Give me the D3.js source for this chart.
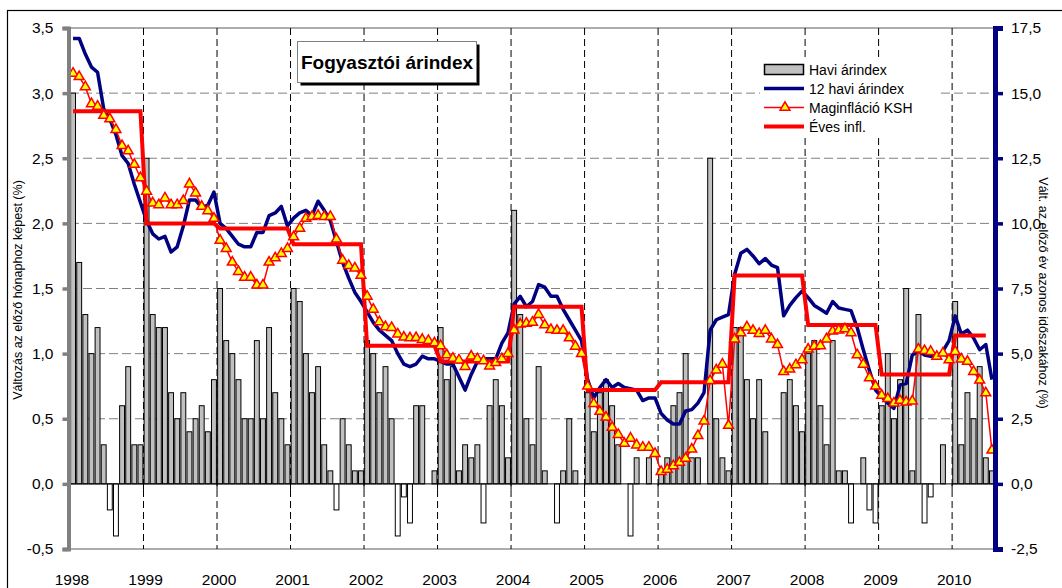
<!DOCTYPE html>
<html>
<head>
<meta charset="utf-8">
<script src="https://cdn.jsdelivr.net/npm/d3@7"></script>
<style>
body { margin: 0; background: #fff; }
svg { display: block; font-family: "Liberation Sans", Arial, sans-serif; }
</style>
</head>
<body>
<svg width="1062" height="588"></svg>
<script>
// years on the category axis
var years = ['1998', '1999', '2000', '2001', '2002', '2003', '2004', '2005', '2006', '2007', '2008', '2009', '2010'];

// monthly change, left axis (%), 1998 Jan .. 2010 Jul
var haviArindex = [
    3.0, 1.7, 1.3, 1.0, 1.2, 0.3, -0.2, -0.4, 0.6, 0.9, 0.3, 0.3,
    2.5, 1.3, 1.2, 1.2, 0.7, 0.5, 0.7, 0.4, 0.5, 0.6, 0.4, 0.8,
    1.5, 1.1, 1.0, 0.8, 0.5, 0.5, 1.1, 0.5, 1.2, 0.7, 0.5, 0.3,
    1.5, 1.4, 1.0, 0.7, 0.9, 0.3, 0.1, -0.2, 0.5, 0.3, 0.1, 0.1,
    1.1, 1.0, 0.7, 0.9, 0.5, -0.4, -0.1, -0.3, 0.6, 0.6, 0.0, 0.1,
    1.2, 0.8, 0.9, 0.1, 0.3, 0.2, 0.3, -0.3, 0.6, 0.8, 0.6, 0.2,
    2.1, 1.3, 0.5, 0.3, 0.9, 0.1, 0.0, -0.3, 0.1, 0.5, 0.1, 0.0,
    0.7, 0.4, 0.7, 0.8, 0.6, 0.3, 0.0, -0.4, 0.2, 0.0, 0.2, 0.0,
    0.1, 0.2, 0.6, 0.7, 1.0, 0.2, 0.2, 0.0, 2.5, 0.5, 0.2, 0.1,
    1.2, 1.2, 0.8, 0.5, 0.8, 0.4, 0.0, 0.0, 0.7, 0.8, 0.6, 0.4,
    1.0, 1.1, 0.6, 0.3, 1.1, 0.1, 0.1, -0.3, 0.0, 0.2, -0.2, -0.3,
    0.6, 1.0, 0.5, 0.8, 1.5, 0.1, 1.3, -0.3, -0.1, 0.0, 0.3, 0.0,
    1.4, 0.3, 0.7, 0.5, 0.9, 0.2, 0.1
];

// 12 month index, right axis (%)
var havi12 = [
    17.1, 17.1, 16.5, 16.0, 15.8, 14.4, 14.0, 13.4, 12.6, 12.3, 11.5, 10.8,
    10.1, 9.6, 9.4, 9.5, 8.9, 9.1, 9.9, 10.9, 10.9, 10.6, 10.7, 11.2,
    10.0, 9.8, 9.5, 9.2, 9.1, 9.1, 9.65, 9.65, 10.3, 10.4, 10.65, 9.9,
    10.2, 10.4, 10.5, 10.3, 10.85, 10.5, 10.1, 9.3, 8.5, 7.9, 7.35, 7.0,
    6.6, 6.2, 5.9, 5.7, 5.5, 5.0, 4.6, 4.5, 4.6, 4.9, 4.8, 4.8,
    4.7, 4.6, 4.6, 4.1, 3.6, 4.2, 4.7, 4.8, 4.8, 4.8, 5.4, 5.8,
    6.9, 7.2, 6.8, 7.0, 7.65, 7.55, 7.2, 7.2, 6.7, 6.3, 5.9, 5.5,
    4.0, 3.3, 3.7, 4.0, 3.7, 3.85, 3.7, 3.65, 3.6, 3.2, 3.3, 3.3,
    2.7, 2.45, 2.3, 2.3, 2.8, 2.85, 3.1, 3.5, 5.9, 6.3, 6.4, 6.5,
    8.05, 8.85, 9.0, 8.75, 8.45, 8.65, 8.4, 8.3, 6.45, 6.85, 7.15, 7.4,
    7.15, 6.85, 6.7, 6.55, 7.0, 6.75, 6.7, 6.65, 6.0, 5.15, 4.35, 3.6,
    3.35, 3.1, 2.9, 3.8, 3.85, 4.95, 5.1, 4.95, 4.9, 4.85, 5.1, 5.5,
    6.45, 5.75, 5.9, 5.6, 5.15, 5.35, 4.0
];

// core inflation (KSH), right axis (%)
var magInfl = [
    15.76, 15.63, 15.24, 14.59, 14.49, 14.14, 14.01, 13.6, 12.98, 12.78, 12.26, 11.75,
    11.23, 10.78, 10.71, 10.97, 10.71, 10.71, 10.87, 11.51, 11.16, 10.65, 10.48, 10.19,
    9.35, 9.03, 8.51, 8.15, 7.93, 7.93, 7.63, 7.63, 8.51, 8.67, 8.84, 9.03,
    9.48, 9.81, 10.19, 10.26, 10.3, 10.26, 10.26, 9.39, 8.58, 8.38, 8.28, 8.0,
    7.2, 6.7, 6.22, 6.03, 6.0, 5.75, 5.63, 5.6, 5.61, 5.54, 5.5, 5.41,
    5.3, 4.95, 4.82, 4.75, 4.5, 4.9, 4.8, 4.72, 4.52, 4.65, 4.8, 5.0,
    5.9, 6.13, 6.16, 6.2, 6.5, 6.1, 5.92, 5.89, 5.89, 5.6, 5.28, 5.0,
    3.75, 3.08, 2.78, 2.56, 2.17, 1.89, 1.55, 1.75, 1.49, 1.4, 1.4, 1.16,
    0.47, 0.56, 0.69, 0.82, 0.98, 1.33, 1.85, 2.41, 3.96, 4.37, 4.59, 2.24,
    5.56, 5.8, 6.02, 5.89, 5.77, 5.89, 5.56, 5.34, 4.31, 4.4, 4.57, 4.76,
    5.17, 5.28, 5.3, 5.56, 5.86, 5.9, 5.95, 5.8, 4.95, 4.59, 4.07, 3.75,
    3.4, 3.27, 3.1, 3.2, 3.14, 3.18, 5.17, 5.11, 5.08, 4.89, 5.02, 4.76,
    5.08, 4.79, 4.7, 4.31, 3.98, 3.49, 1.29
];

// yearly average inflation, right axis (%)
var evesInfl = [14.3, 10.0, 9.8, 9.2, 5.3, 4.7, 6.8, 3.6, 3.9, 8.0, 6.1, 4.2, 5.7];
var evesMonths = 150; // the step line runs to 2010 Jun

var svg = d3.select('svg');
var plotLeft = 70, plotRight = 995, plotTop = 28, plotBottom = 549;
var n = haviArindex.length;

var x = d3.scaleBand()
    .domain(d3.range(n))
    .range([plotLeft, plotRight])
    .paddingInner(0.2)
    .paddingOuter(0.1);
function xc(i) { return x(i) + x.bandwidth() / 2; } //centre of a month slot
function xb(i) { return xc(i) - x.step() / 2; } //left edge of a month slot

var yL = d3.scaleLinear().domain([-0.5, 3.5]).range([plotBottom, plotTop]);
var yR = d3.scaleLinear().domain([-2.5, 17.5]).range([plotBottom, plotTop]);

var fmt = function(d) { return d3.format('.1f')(d).replace('.', ',').replace('\u2212', '-'); };

//outer frame
svg.append('rect')
    .attr('x', 7.5).attr('y', 10.5)
    .attr('width', 1100).attr('height', 600)
    .attr('fill', 'none').attr('stroke', '#000').attr('stroke-width', 1.2);

//horizontal grid
var grid = svg.append('g');
[0.5, 1.0, 1.5, 2.0, 2.5, 3.0].forEach(function(v) {
    grid.append('line')
        .attr('x1', plotLeft).attr('x2', plotRight)
        .attr('y1', yL(v)).attr('y2', yL(v))
        .attr('stroke', '#808080').attr('stroke-dasharray', '9,4');
});
[3.5, -0.5].forEach(function(v) {
    grid.append('line')
        .attr('x1', plotLeft).attr('x2', plotRight)
        .attr('y1', yL(v)).attr('y2', yL(v))
        .attr('stroke', '#909090').attr('stroke-width', 1.5);
});
//vertical year grid
years.slice(1).forEach(function(yr, k) {
    var gx = xb((k + 1) * 12);
    grid.append('line')
        .attr('x1', gx).attr('x2', gx)
        .attr('y1', plotTop).attr('y2', plotBottom)
        .attr('stroke', '#000').attr('stroke-dasharray', '7,4');
});

//title box
svg.append('rect')
    .attr('x', 300.5).attr('y', 44.5).attr('width', 179).attr('height', 41)
    .attr('fill', '#000');
svg.append('rect')
    .attr('x', 297.5).attr('y', 41.5).attr('width', 179).attr('height', 41)
    .attr('fill', '#fff').attr('stroke', '#808080');
svg.append('text')
    .attr('x', 387).attr('y', 69)
    .attr('text-anchor', 'middle')
    .attr('font-size', 19).attr('font-weight', 'bold')
    .text('Fogyasztói árindex');

//monthly bars
svg.append('g').selectAll('rect')
    .data(haviArindex)
    .enter()
    .append('rect')
    .attr('x', function(d, i) { return x(i); })
    .attr('width', x.bandwidth())
    .attr('y', function(d) { return yL(Math.max(0, d)); })
    .attr('height', function(d) { return Math.abs(yL(d) - yL(0)); })
    .attr('fill', function(d) { return d < 0 ? '#fff' : '#c0c0c0'; })
    .attr('stroke', '#000').attr('stroke-width', 1);

//zero line with year ticks
svg.append('line')
    .attr('x1', plotLeft).attr('x2', plotRight)
    .attr('y1', yL(0)).attr('y2', yL(0))
    .attr('stroke', '#000');
years.forEach(function(yr, k) {
    var gx = xb(k * 12);
    svg.append('line')
        .attr('x1', gx).attr('x2', gx)
        .attr('y1', yL(0)).attr('y2', yL(0) + 6)
        .attr('stroke', '#000');
    svg.append('text')
        .attr('x', gx + 2).attr('y', 585)
        .attr('text-anchor', 'middle')
        .attr('font-size', 15.5)
        .text(yr);
});

//12 month index
var line = d3.line()
    .x(function(d, i) { return xc(i); })
    .y(function(d) { return yR(d); });
svg.append('path')
    .datum(havi12)
    .attr('d', line)
    .attr('fill', 'none').attr('stroke', '#000080').attr('stroke-width', 3.5)
    .attr('stroke-linejoin', 'round');

//yearly step line, one point per month
var evesMonthly = d3.range(evesMonths).map(function(i) { return evesInfl[Math.floor(i / 12)]; });
svg.append('path')
    .datum(evesMonthly)
    .attr('d', line)
    .attr('fill', 'none').attr('stroke', '#ff0000').attr('stroke-width', 4);

//core inflation with triangles
svg.append('path')
    .datum(magInfl)
    .attr('d', line)
    .attr('fill', 'none').attr('stroke', '#ff0000').attr('stroke-width', 1.5);
var tri = d3.symbol().type(d3.symbolTriangle).size(42);
svg.append('g').selectAll('path')
    .data(magInfl)
    .enter()
    .append('path')
    .attr('d', tri)
    .attr('transform', function(d, i) { return 'translate(' + xc(i) + ',' + yR(d) + ')'; })
    .attr('fill', '#ffff00').attr('stroke', '#ff0000').attr('stroke-width', 1.5);

//left axis
var axL = svg.append('g')
    .attr('transform', 'translate(' + (plotLeft - 1.5) + ',0)')
    .call(d3.axisLeft(yL).tickValues(d3.range(-0.5, 3.51, 0.5)).tickFormat(fmt).tickSize(6).tickPadding(9));
axL.select('.domain').attr('stroke', '#808080').attr('stroke-width', 4);
axL.selectAll('.tick line').attr('stroke', '#808080').attr('stroke-width', 3.5);
axL.selectAll('.tick text').attr('font-size', 15.5).attr('fill', '#000').attr('font-family', null);

//right axis
var axR = svg.append('g')
    .attr('transform', 'translate(' + plotRight + ',0)')
    .call(d3.axisRight(yR).tickValues(d3.range(-2.5, 17.51, 2.5)).tickFormat(fmt).tickSize(8).tickPadding(8));
axR.select('.domain').attr('stroke', '#000080').attr('stroke-width', 5);
axR.selectAll('.tick line').attr('stroke', '#000080').attr('stroke-width', 3.5);
axR.selectAll('.tick text').attr('font-size', 15.5).attr('fill', '#000').attr('font-family', null);

//axis titles
svg.append('text')
    .attr('transform', 'translate(22,290) rotate(-90)')
    .attr('text-anchor', 'middle')
    .attr('font-size', 12.5)
    .text('Változás az előző hónaphoz képest (%)');
svg.append('text')
    .attr('transform', 'translate(1039,293) rotate(90)')
    .attr('text-anchor', 'middle')
    .attr('font-size', 12.5)
    .text('Vált. az előző év azonos időszakához (%)');

//legend
var lg = svg.append('g');
lg.append('rect')
    .attr('x', 760).attr('y', 58).attr('width', 178).attr('height', 78)
    .attr('fill', '#fff');
var rows = [
    { label: 'Havi árindex', kind: 'bar' },
    { label: '12 havi árindex', kind: 'navy' },
    { label: 'Maginfláció KSH', kind: 'core' },
    { label: 'Éves infl.', kind: 'eves' }
];
rows.forEach(function(r, k) {
    var cy = 69.5 + k * 19;
    if (r.kind === 'bar') {
        lg.append('rect')
            .attr('x', 764.5).attr('y', cy - 5).attr('width', 39).attr('height', 10)
            .attr('fill', '#c0c0c0').attr('stroke', '#000').attr('stroke-width', 1.5);
    } else if (r.kind === 'navy') {
        lg.append('line').attr('x1', 764).attr('x2', 804).attr('y1', cy).attr('y2', cy)
            .attr('stroke', '#000080').attr('stroke-width', 3.5);
    } else if (r.kind === 'core') {
        lg.append('line').attr('x1', 764).attr('x2', 804).attr('y1', cy).attr('y2', cy)
            .attr('stroke', '#ff0000').attr('stroke-width', 1.5);
        lg.append('path').attr('d', tri).attr('transform', 'translate(785,' + cy + ')')
            .attr('fill', '#ffff00').attr('stroke', '#ff0000').attr('stroke-width', 1.5);
    } else {
        lg.append('line').attr('x1', 764).attr('x2', 804).attr('y1', cy).attr('y2', cy)
            .attr('stroke', '#ff0000').attr('stroke-width', 4);
    }
    lg.append('text')
        .attr('x', 809).attr('y', cy + 5)
        .attr('font-size', 14)
        .text(r.label);
});
</script>
</body>
</html>
